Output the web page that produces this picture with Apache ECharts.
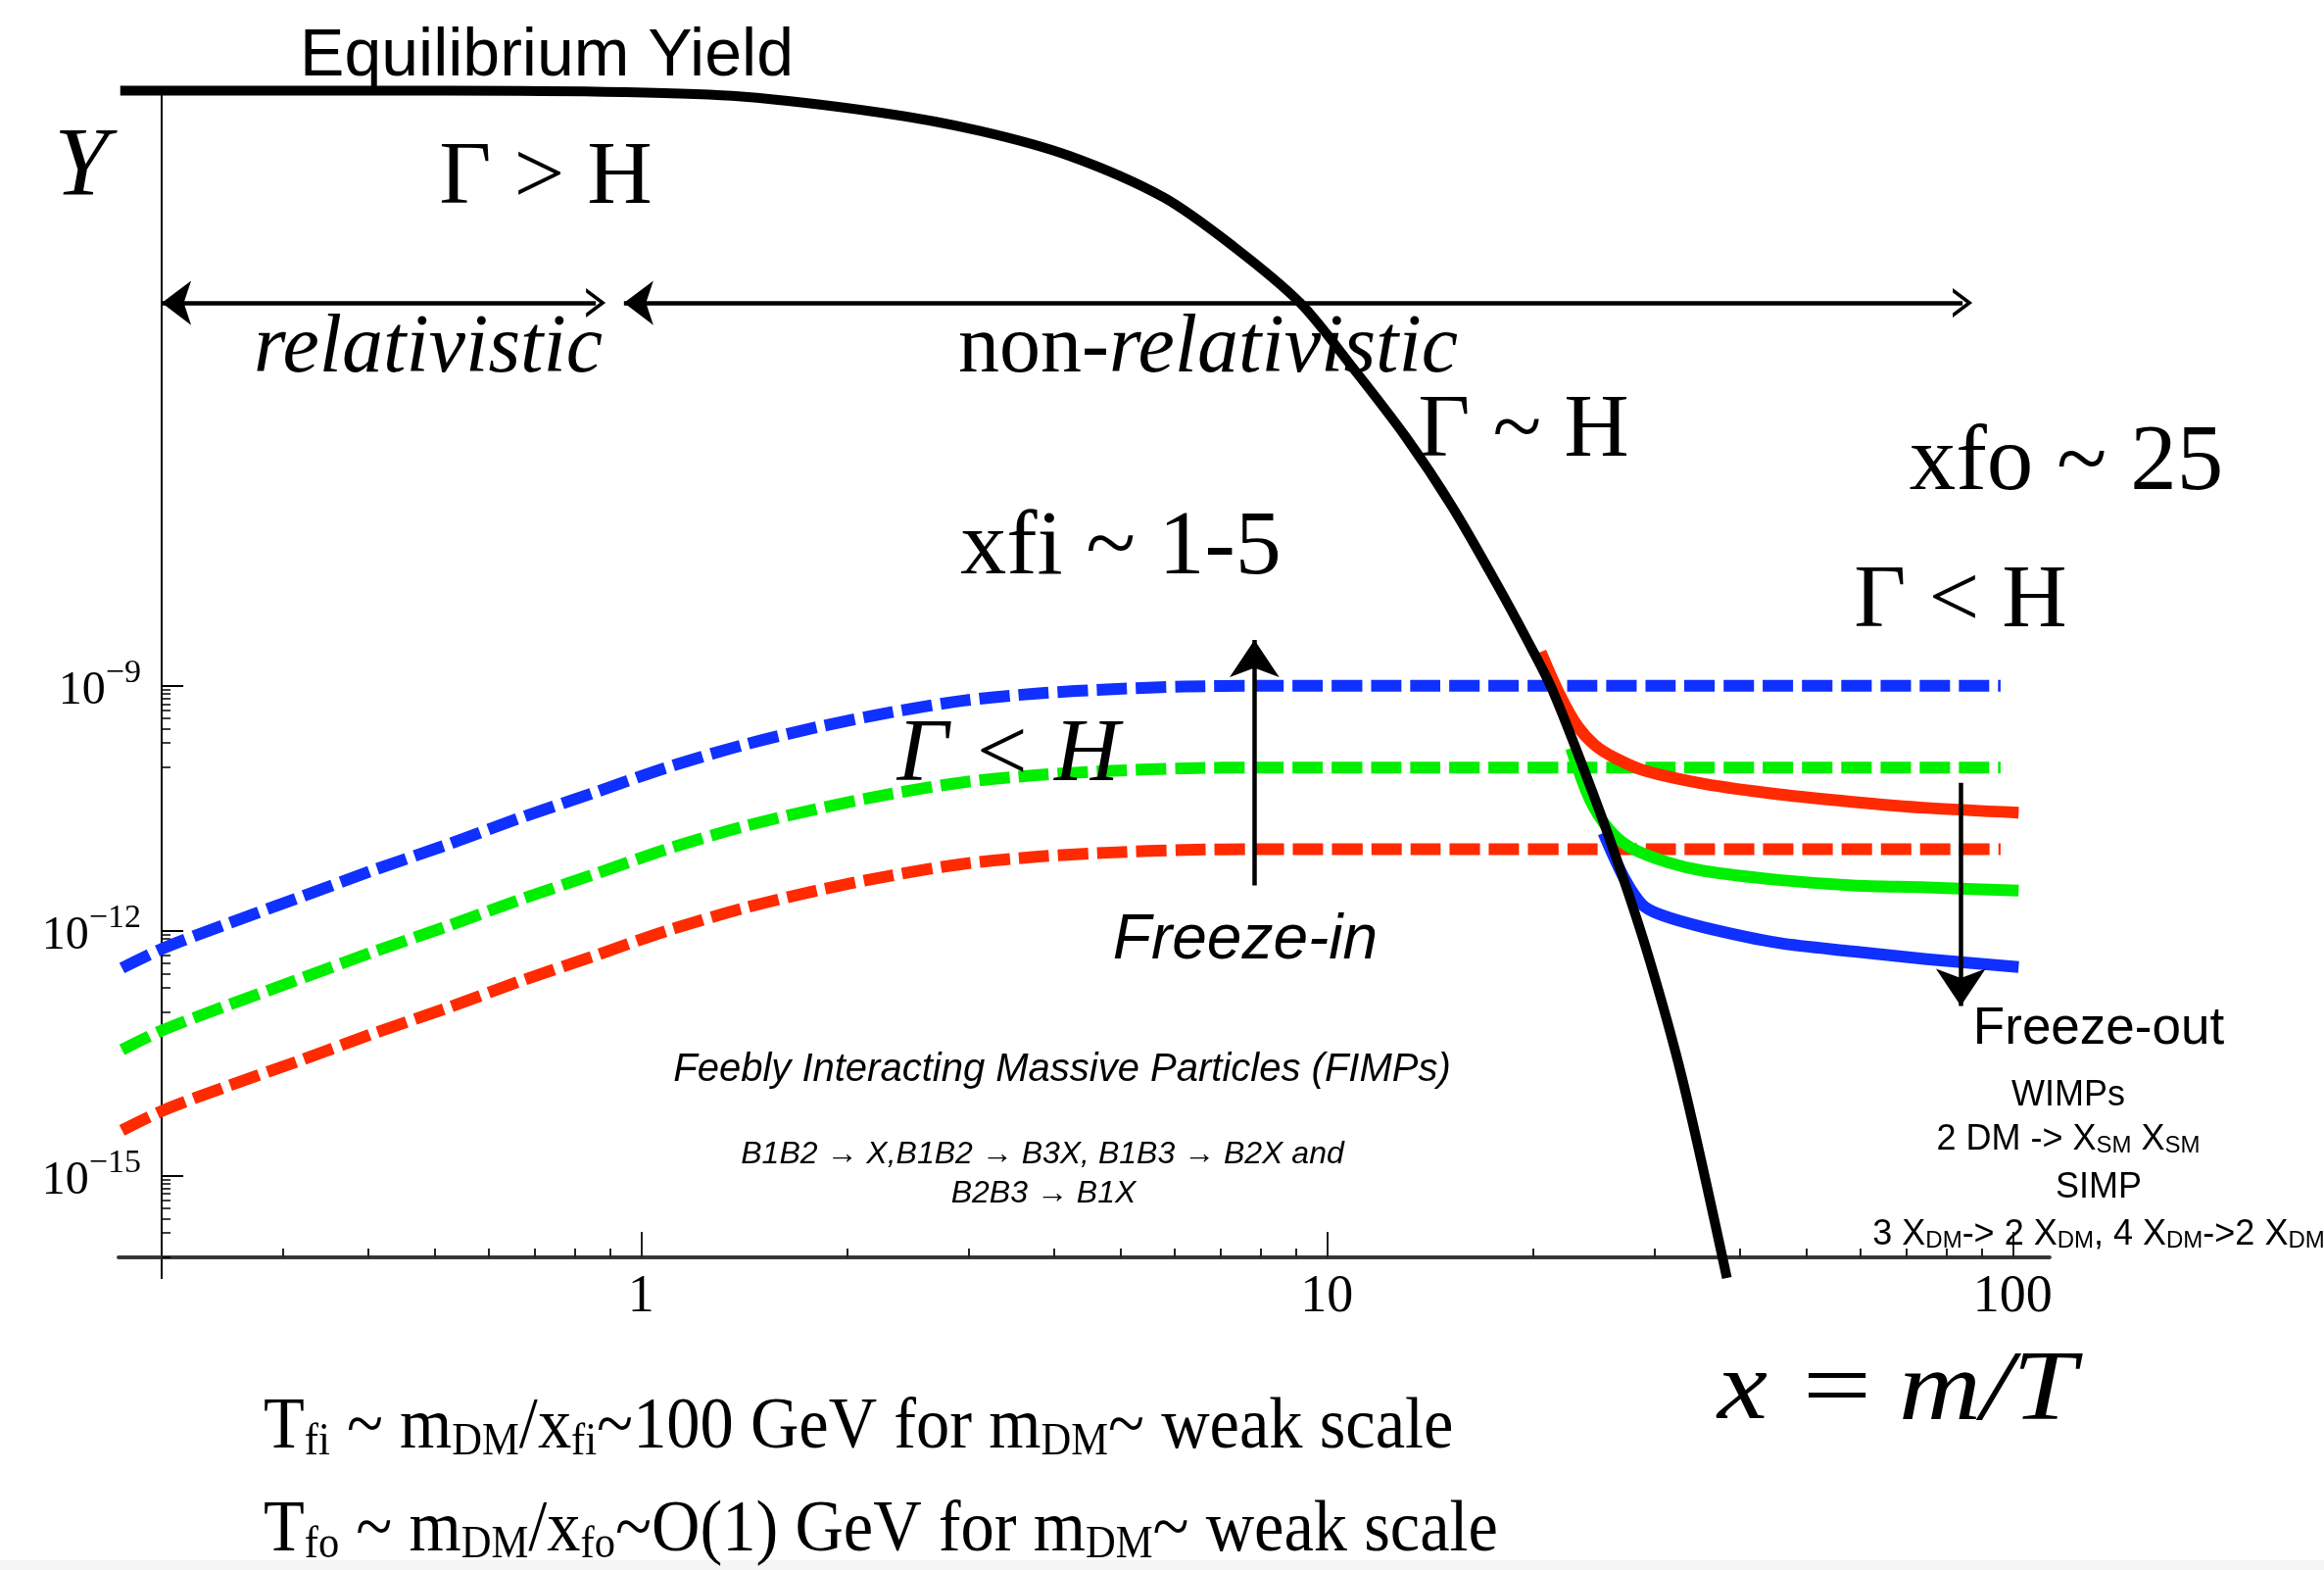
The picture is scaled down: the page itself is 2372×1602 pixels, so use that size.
<!DOCTYPE html>
<html><head><meta charset="utf-8">
<script src="https://cdn.jsdelivr.net/npm/echarts@6/dist/echarts.min.js"></script>
<style>html,body{margin:0;padding:0;background:#fff}#c{width:2372px;height:1602px}</style>
</head><body><div id="c"></div>
<script>
// ---------------- data (x = m/T, yield Y) ----------------
const xTickMajor = [1, 10, 100];
const xTickMinor = [0.3,0.4,0.5,0.6,0.7,0.8,0.9,2,3,4,5,6,7,8,9,20,30,40,50,60,70,80,90];
const yTickMajor = [1e-15, 1e-12, 1e-9];
const yTickExp = ['−15', '−12', '−9'];

// equilibrium yield (black)
const eqX = [0.174, 0.52, 0.942, 1.40, 2.25, 3.11, 4.21, 5.78, 7.31, 9.14, 10.88, 13.02, 15.26, 17.72, 19.57, 21.19, 23.64, 26.38, 29.43, 33.0, 38.3];
const eqY = [1.95e-2, 1.95e-2, 1.87e-2, 1.65e-2, 1.04e-2, 6.3e-3, 3.1e-3, 9.6e-4, 2.4e-4, 4.9e-5, 8.1e-6, 1.13e-6, 1.52e-7, 1.72e-8, 3.7e-9, 1.0e-9, 1.0e-10, 8.1e-12, 4.9e-13, 1.5e-14, 5.6e-17];

// freeze-in (dashed)
const fiX = [0.175, 0.2, 0.246, 0.315, 0.404, 0.519, 0.665, 0.853, 1.09, 1.4, 1.8, 2.3, 2.95, 3.8, 4.86, 6.2, 8.0, 14, 30, 96];
const fiBlueY  = [3.5e-13, 6.0e-13, 1.17e-12, 2.5e-12, 5.4e-12, 1.12e-11, 2.4e-11, 4.9e-11, 1.0e-10, 1.86e-10, 3.1e-10, 4.7e-10, 6.6e-10, 8.1e-10, 9.1e-10, 9.8e-10, 1.0e-9, 1.0e-9, 1.0e-9, 1.0e-9];
const fiGreenY = [3.5e-14, 6.0e-14, 1.17e-13, 2.5e-13, 5.4e-13, 1.12e-12, 2.4e-12, 4.9e-12, 1.0e-11, 1.86e-11, 3.1e-11, 4.7e-11, 6.6e-11, 8.1e-11, 9.1e-11, 9.8e-11, 1.0e-10, 1.0e-10, 1.0e-10, 1.0e-10];
const fiRedY   = [3.6e-15, 6.2e-15, 1.2e-14, 2.5e-14, 5.4e-14, 1.12e-13, 2.4e-13, 4.9e-13, 1.0e-12, 1.86e-12, 3.1e-12, 4.7e-12, 6.6e-12, 8.1e-12, 9.1e-12, 9.8e-12, 1.0e-11, 1.0e-11, 1.0e-11, 1.0e-11];

// freeze-out (solid)
const foRedX = [20.5, 21.9, 23.2, 24.6, 26.4, 29.1, 35.5, 45.6, 58.4, 75, 102];
const foRedY = [2.6e-9, 7.5e-10, 3.2e-10, 1.87e-10, 1.29e-10, 9.1e-11, 6.3e-11, 4.7e-11, 3.8e-11, 3.2e-11, 2.8e-11];
const foGreenX = [22.7, 24.2, 25.8, 27.7, 31.4, 35.5, 45.6, 58.4, 75, 102];
const foGreenY = [1.73e-10, 4.0e-11, 1.73e-11, 1.05e-11, 6.9e-12, 5.4e-12, 4.2e-12, 3.6e-12, 3.4e-12, 3.1e-12];
const foBlueX = [25.3, 27.1, 28.8, 30.6, 35.5, 45.6, 58.4, 75, 102];
const foBlueY = [1.58e-11, 4.5e-12, 2.1e-12, 1.58e-12, 1.1e-12, 7.1e-13, 5.6e-13, 4.5e-13, 3.6e-13];

// ---------------- axes: log-log, axes crossing at x = 0.2, Y = 1e-16 ----------------
const X0 = 0.2, Y0 = 1e-16;
const X_MIN = 0.173, X_MAX = 113.2, Y_MIN = 5.6e-17, Y_MAX = 1.82e-2;
const U = x => Math.log10(x / X0);
const V = y => Math.log10(y / Y0);
const pts = (xs, ys) => xs.map((x, i) => [U(x), V(ys[i])]);

const yTickMinor = [];
yTickMajor.forEach(m => { for (let k = 1; k <= 9; k++) yTickMinor.push(k * m / 10); });

const BLUE = '#0f30ff', GREEN = '#00ee00', RED = '#ff2a00';
const SERIF = 'Liberation Serif', SANS = 'Liberation Sans';
const CHEV = 'path://M0,20 L10,0 L20,20 L17,20 L10,6 L3,20 Z';

function curve(name, data, color, dashed, z) {
  return { type: 'line', name, data, symbol: 'none', showSymbol: false, smooth: 0.3,
    clip: false, silent: true, z,
    lineStyle: { color, width: 12, type: dashed ? [31, 9] : 'solid', cap: 'butt', join: 'round' } };
}

function txt(x, y, text, size, family, opt) {
  opt = opt || {};
  const el = { type: 'text', x, y, silent: true, z: 100, scaleX: opt.sx || 1,
    style: { text, fontSize: size, fontFamily: family, fontStyle: opt.italic ? 'italic' : 'normal',
      fill: '#000', align: opt.align || 'center', verticalAlign: 'middle' } };
  if (opt.rich) el.style.rich = opt.rich;
  return el;
}
const tk = (size, family, extra) => Object.assign({ fontSize: size, fontFamily: family, fill: '#000' }, extra || {});

const bottomRich = { a: tk(74, SERIF), s: tk(46, SERIF, { verticalAlign: 'bottom' }) };
const rightRich = { a: tk(36, SANS), s: tk(24, SANS, { verticalAlign: 'bottom' }) };

const ARROW_LINE = { color: '#000', width: 4.5, type: 'solid' };

const chart = echarts.init(document.getElementById('c'), null, { renderer: 'canvas' });
chart.setOption({
  backgroundColor: '#fff',
  animation: false,
  grid: { left: 121, top: 95, width: 1971, height: 1209, containLabel: false, outerBoundsMode: 'none' },
  xAxis: [
    { type: 'value', position: 'bottom', min: U(X_MIN), max: U(X_MAX),
      axisLine: { show: true, onZero: true, onZeroAxisIndex: 0, lineStyle: { color: '#333', width: 3.5 } },
      axisTick: { show: true, inside: true, length: 26, customValues: xTickMajor.map(U), lineStyle: { color: '#222', width: 2 } },
      axisLabel: { show: true, customValues: xTickMajor.map(U), margin: -7, fontFamily: SERIF, fontSize: 54, color: '#000',
        formatter: v => String(Math.round(X0 * Math.pow(10, v))) },
      splitLine: { show: false } },
    { type: 'value', position: 'top', min: U(X_MIN), max: U(X_MAX),
      axisLine: { show: true, onZero: true, onZeroAxisIndex: 0, lineStyle: { color: '#333', width: 3.5 } },
      axisTick: { show: true, inside: false, length: 9, customValues: xTickMinor.map(U), lineStyle: { color: '#222', width: 2 } },
      axisLabel: { show: false }, splitLine: { show: false } }
  ],
  yAxis: [
    { type: 'value', position: 'left', min: V(Y_MIN), max: V(Y_MAX),
      axisLine: { show: true, onZero: true, onZeroAxisIndex: 0, lineStyle: { color: '#000', width: 2 } },
      axisTick: { show: true, inside: true, length: 22, customValues: yTickMajor.map(V), lineStyle: { color: '#000', width: 2 } },
      axisLabel: { show: true, customValues: yTickMajor.map(V), margin: -23,
        formatter: v => { const i = yTickMajor.findIndex(t => Math.abs(V(t) - v) < 1e-6); return '{a|10}{b|' + yTickExp[i] + '}'; },
        rich: { a: { fontFamily: SERIF, fontSize: 48, color: '#000', padding: [12, 0, 0, 0], verticalAlign: 'bottom' },
                b: { fontFamily: SERIF, fontSize: 34, color: '#000', verticalAlign: 'top' } } },
      splitLine: { show: false } },
    { type: 'value', position: 'right', min: V(Y_MIN), max: V(Y_MAX),
      axisLine: { show: true, onZero: true, onZeroAxisIndex: 0, lineStyle: { color: '#000', width: 2 } },
      axisTick: { show: true, inside: false, length: 9, customValues: yTickMinor.map(V), lineStyle: { color: '#000', width: 1.5 } },
      axisLabel: { show: false }, splitLine: { show: false } }
  ],
  series: [
    curve('fi-red', pts(fiX, fiRedY), RED, true, 2),
    curve('fi-green', pts(fiX, fiGreenY), GREEN, true, 2),
    curve('fi-blue', pts(fiX, fiBlueY), BLUE, true, 2),
    curve('fo-blue', pts(foBlueX, foBlueY), BLUE, false, 3),
    curve('fo-green', pts(foGreenX, foGreenY), GREEN, false, 3),
    curve('fo-red', pts(foRedX, foRedY), RED, false, 3),
    Object.assign(curve('equilibrium', pts(eqX, eqY), '#000', false, 5), {
      lineStyle: { color: '#000', width: 10, cap: 'butt', join: 'round' },
      markLine: {
        silent: true, animation: false, label: { show: false }, emphasis: { disabled: true },
        symbol: ['none', 'none'], lineStyle: ARROW_LINE,
        data: [
          [{ coord: [U(0.2), V(4.9e-5)], symbol: 'arrow', symbolSize: [34, 30], lineStyle: ARROW_LINE },
           { coord: [U(0.859), V(4.9e-5)], symbol: CHEV, symbolSize: [30, 20] }],
          [{ coord: [U(0.944), V(4.9e-5)], symbol: 'arrow', symbolSize: [34, 30], lineStyle: ARROW_LINE },
           { coord: [U(84.5), V(4.9e-5)], symbol: CHEV, symbolSize: [30, 20] }],
          [{ coord: [U(7.84), V(3.6e-12)], symbol: 'none', lineStyle: ARROW_LINE },
           { coord: [U(7.84), V(3.66e-9)], symbol: 'arrow', symbolSize: [38, 38] }],
          [{ coord: [U(84), V(6.5e-11)], symbol: 'none', lineStyle: ARROW_LINE },
           { coord: [U(84), V(1.2e-13)], symbol: 'arrow', symbolSize: [38, 38] }]
        ]
      }
    })
  ],
  graphic: [
    txt(558, 58, 'Equilibrium Yield', 68, SANS),
    txt(83, 172, 'Y', 100, SERIF, { italic: true }),
    txt(557, 183, 'Γ > H', 92, SERIF),
    txt(437, 357, 'relativistic', 84, SERIF, { italic: true }),
    txt(1233, 357, '{n|non-}{i|relativistic}', 84, SERIF, { rich: { n: tk(84, SERIF), i: tk(84, SERIF, { fontStyle: 'italic' }) } }),
    txt(1555, 441, 'Γ ~ H', 92, SERIF),
    txt(2109, 474, 'xfo ~ 25', 95, SERIF),
    txt(1144, 560, 'xfi ~ 1-5', 94, SERIF),
    txt(2001, 615, 'Γ < H', 92, SERIF),
    txt(1029, 772, 'Γ < H', 92, SERIF, { italic: true }),
    txt(1271, 960, 'Freeze-in', 64, SANS, { italic: true }),
    txt(2142, 1050, 'Freeze-out', 53, SANS),
    txt(1084, 1092, 'Feebly Interacting Massive Particles (FIMPs)', 40, SANS, { italic: true }),
    txt(1064, 1178, 'B1B2 → X,B1B2 → B3X, B1B3 → B2X and', 32, SANS, { italic: true }),
    txt(1065, 1218, 'B2B3 → B1X', 32, SANS, { italic: true }),
    txt(2111, 1118, 'WIMPs', 36, SANS),
    txt(2111, 1163, '{a|2 DM -> X}{s|SM}{a| X}{s|SM}', 36, SANS, { rich: rightRich }),
    txt(2142, 1212, 'SIMP', 36, SANS),
    txt(2142, 1260, '{a|3 X}{s|DM}{a|-> 2 X}{s|DM}{a|, 4 X}{s|DM}{a|->2 X}{s|DM}', 36, SANS, { rich: rightRich }),
    txt(1753, 1421, 'x', 100, SERIF, { italic: true, align: 'left', sx: 1.15 }),
    txt(1875, 1421, '=', 100, SERIF, { sx: 1.25 }),
    txt(1938, 1421, 'm/T', 102, SERIF, { italic: true, align: 'left', sx: 1.14 }),
    txt(269, 1458, '{a|T}{s|fi}{a| ~ m}{s|DM}{a|/x}{s|fi}{a|~100 GeV for m}{s|DM}{a|~ weak scale}', 74, SERIF, { align: 'left', sx: 0.925, rich: bottomRich }),
    txt(269, 1563, '{a|T}{s|fo}{a| ~ m}{s|DM}{a|/x}{s|fo}{a|~O(1) GeV for m}{s|DM}{a|~ weak scale}', 74, SERIF, { align: 'left', sx: 0.925, rich: bottomRich }),
    { type: 'rect', silent: true, z: -1, shape: { x: 0, y: 1592, width: 2372, height: 10 }, style: { fill: '#f5f5f5' } }
  ]
});
</script>
</body></html>
